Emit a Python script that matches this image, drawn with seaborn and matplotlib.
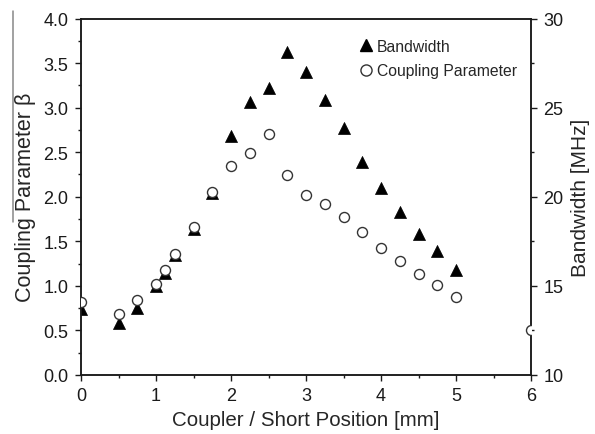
import matplotlib
matplotlib.use("Agg")
import matplotlib.pyplot as plt
from matplotlib.lines import Line2D
from matplotlib.ticker import MultipleLocator, FormatStrFormatter
import seaborn as sns
import pandas as pd

# ---- data ----
pos_beta = [0, 0.5, 0.75, 1.0, 1.125, 1.25, 1.5, 1.75, 2.0, 2.25, 2.5, 2.75,
            3.0, 3.25, 3.5, 3.75, 4.0, 4.25, 4.5, 4.75, 5.0, 6.0]
beta = [0.82, 0.69, 0.845, 1.02, 1.18, 1.36, 1.66, 2.05, 2.34, 2.495, 2.705, 2.24,
        2.02, 1.92, 1.77, 1.61, 1.43, 1.28, 1.13, 1.01, 0.875, 0.505]

pos_bw = [0, 0.5, 0.75, 1.0, 1.125, 1.25, 1.5, 1.75, 2.0, 2.25, 2.5, 2.75,
          3.0, 3.25, 3.5, 3.75, 4.0, 4.25, 4.5, 4.75, 5.0]
bandwidth = [13.7, 12.92, 13.76, 15.0, 15.75, 16.72, 18.2, 20.2, 23.39, 25.33, 26.08, 28.1,
             27.01, 25.44, 23.84, 21.96, 20.47, 19.13, 17.91, 16.98, 15.89]

x_label = "Coupler / Short Position [mm]"
y_label = "Coupling Parameter \u03b2"
y2_label = "Bandwidth [MHz]"
series_names = ["Bandwidth", "Coupling Parameter"]

df_beta = pd.DataFrame({"pos": pos_beta, "val": beta})
df_bw = pd.DataFrame({"pos": pos_bw, "val": bandwidth})

sns.set_style("ticks")
plt.rcParams["font.family"] = ["Liberation Sans", "DejaVu Sans"]
plt.rcParams["xtick.direction"] = "out"
plt.rcParams["ytick.direction"] = "out"

fig = plt.figure(figsize=(5.95, 4.35), dpi=100)
ax = fig.add_axes([81 / 595, 1 - 376 / 435, (531 - 81) / 595, (376 - 19.5) / 435])
ax2 = ax.twinx()

sns.scatterplot(data=df_bw, x="pos", y="val", ax=ax2, marker="^", s=75,
                color="black", edgecolor="black", linewidth=0.5, zorder=2)
sns.scatterplot(data=df_beta, x="pos", y="val", ax=ax, marker="o", s=52,
                facecolor="white", edgecolor="#333333", linewidth=1.0, zorder=3)

ax.set_zorder(ax2.get_zorder() + 1)
ax.patch.set_visible(False)

ax.set_xlim(0, 6)
ax.set_ylim(0, 4)
ax2.set_ylim(10, 30)
ax.xaxis.set_major_locator(MultipleLocator(1))
ax.xaxis.set_minor_locator(MultipleLocator(0.5))
ax.yaxis.set_major_locator(MultipleLocator(0.5))
ax.yaxis.set_minor_locator(MultipleLocator(0.25))
ax2.yaxis.set_major_locator(MultipleLocator(5))
ax2.yaxis.set_minor_locator(MultipleLocator(2.5))
ax.yaxis.set_major_formatter(FormatStrFormatter("%.1f"))

for a in (ax, ax2):
    for sp in a.spines.values():
        sp.set_visible(True)
        sp.set_color("#1a1a1a")
        sp.set_linewidth(1.1)

ax.tick_params(axis="both", which="major", length=4, width=1.0,
               labelsize=13, colors="#1a1a1a", pad=5)
ax.tick_params(axis="both", which="minor", length=2.3, width=1.0, colors="#1a1a1a")
ax.tick_params(axis="y", which="both", left=True, right=False)
ax.tick_params(axis="x", which="both", bottom=True, top=False)
ax2.tick_params(axis="y", which="major", length=4, width=1.0,
                labelsize=13, colors="#1a1a1a", pad=5)
ax2.tick_params(axis="y", which="minor", length=2.3, width=1.0, colors="#1a1a1a")

ax.set_xlabel(x_label, fontsize=14.8, labelpad=4)
ax.set_ylabel(y_label, fontsize=15.5, labelpad=5)
ax2.set_ylabel(y2_label, fontsize=15, labelpad=5)

handles = [
    Line2D([], [], linestyle="none", marker="^", markersize=8, color="black"),
    Line2D([], [], linestyle="none", marker="o", markersize=8,
           markerfacecolor="white", markeredgecolor="#333333", markeredgewidth=1.0),
]
ax.legend(handles, series_names, loc="upper left", bbox_to_anchor=(0.621, 0.943),
          frameon=False, fontsize=11.3, handlelength=0.7, handletextpad=0.35,
          borderpad=0, borderaxespad=0, labelspacing=0.6)

# thin gray stroke at the left edge as in the original
fig.add_artist(Line2D([13 / 595, 13 / 595], [1 - 12 / 435, 1 - 223 / 435],
                      color="#888888", lw=1.1))

fig.savefig("out.png", dpi=100)
